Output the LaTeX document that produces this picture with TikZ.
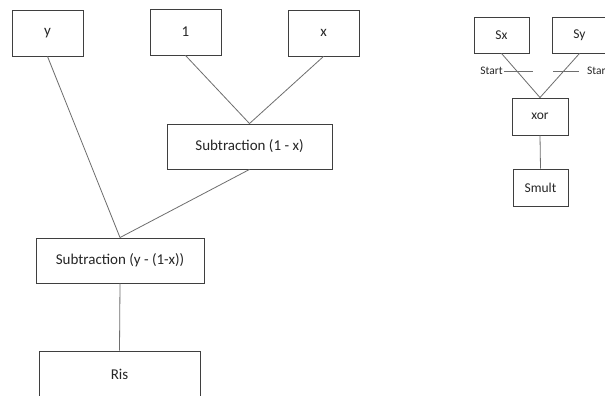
\documentclass[tikz,border=0pt]{standalone}
\usepackage{fontspec}
\setmainfont{Carlito}
\begin{document}
\begin{tikzpicture}[x=1pt,y=-1pt,
  box/.style={draw=boxgray,line width=0.9pt,inner sep=0pt,text=black!85},
  bigbox/.style={box,font=\fontsize{15}{18}\selectfont},
  smallbox/.style={box,font=\fontsize{13.5}{16}\selectfont},
  wire/.style={draw=wiregray,line width=0.8pt},
  lbl/.style={inner sep=1pt,font=\fontsize{11.5}{13}\selectfont,text=black!85}]
\definecolor{boxgray}{HTML}{3F3F3F}
\definecolor{wiregray}{HTML}{6E6E6E}
\useasboundingbox[fill=white] (0,0) rectangle (605,396);
\clip (0,0) rectangle (605,396);
% expression tree
\node[bigbox,minimum width=71pt,minimum height=46pt] (y)   at (47.5,33)  {y};
\node[bigbox,minimum width=71pt,minimum height=46pt] (one) at (185.5,32) {1};
\node[bigbox,minimum width=71pt,minimum height=46pt] (x)   at (323.5,33) {x};
\node[bigbox,minimum width=165pt,minimum height=45pt] (sub1) at (249.5,146.5) {Subtraction (1 - x)};
\node[bigbox,minimum width=168pt,minimum height=45pt] (sub2) at (120,260.5) {Subtraction (y - (1-x))};
\node[bigbox,minimum width=161pt,minimum height=47pt] (ris) at (119.5,374.5) {Ris};
\draw[wire] (one.south) -- (sub1.north);
\draw[wire] (x.south) -- (sub1.north);
\draw[wire] (y.south) -- (sub2.north);
\draw[wire] (sub1.south) -- (sub2.north);
\draw[wire] (sub2.south) -- (ris.north);
% sign of the product
\node[smallbox,minimum width=55pt,minimum height=36pt] (sx) at (501.5,35) {Sx};
\node[smallbox,minimum width=55pt,minimum height=36pt] (sy) at (579.5,35) {Sy};
\node[smallbox,minimum width=56pt,minimum height=37pt] (xor) at (540,116.5) {xor};
\node[smallbox,minimum width=55pt,minimum height=37pt] (smult) at (540.5,187.5) {Smult};
\draw[wire] (sx.south) -- (xor.north);
\draw[wire] (sy.south) -- (xor.north);
\draw[wire] (xor.south) -- (smult.north);
% start markers
\node[lbl,anchor=east] (startl) at (504,71) {Start};
\coordinate (tickl) at (533,71);
\draw[wire] (startl.east) -- (tickl);
\node[lbl,anchor=west,inner sep=0pt] (startr) at (587,71) {Start};
\coordinate (tickr) at (553,71);
\draw[wire] (tickr) -- ([xshift=-8pt]startr.west);
\end{tikzpicture}
\end{document}
